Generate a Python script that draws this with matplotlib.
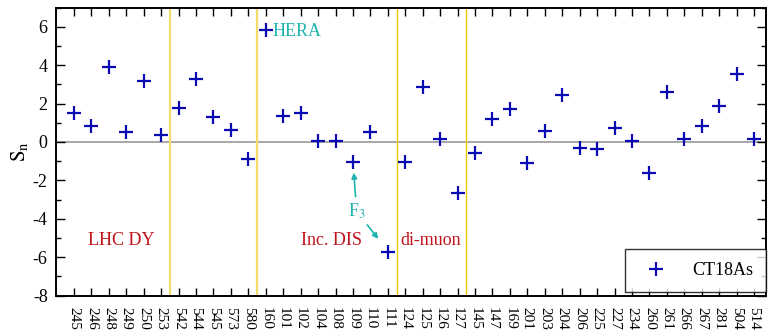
import matplotlib
matplotlib.use("Agg")
import matplotlib.pyplot as plt
from matplotlib.ticker import MultipleLocator
import numpy as np

plt.rcParams['font.family'] = ['Liberation Serif', 'DejaVu Serif']
plt.rcParams['mathtext.fontset'] = 'stix'
plt.rcParams['axes.unicode_minus'] = False

experiments = ['245', '246', '248', '249', '250', '253', '542', '544', '545', '573',
               '580', '160', '101', '102', '104', '108', '109', '110', '111', '124',
               '125', '126', '127', '145', '147', '169', '201', '203', '204', '206',
               '225', '227', '234', '260', '261', '266', '267', '281', '504', '514']
sn_values = [1.49, 0.83, 3.89, 0.52, 3.19, 0.35, 1.75, 3.30, 1.32, 0.62,
             -0.90, 5.82, 1.37, 1.49, 0.07, 0.07, -1.02, 0.50, -5.71, -1.02,
             2.88, 0.16, -2.67, -0.59, 1.20, 1.70, -1.08, 0.57, 2.43, -0.30,
             -0.35, 0.71, 0.07, -1.63, 2.59, 0.16, 0.83, 1.87, 3.54, 0.16]
group_boundaries = [5.5, 10.5, 18.5, 22.5]
group_labels = ['LHC DY', 'Inc. DIS', 'di-muon']

fig = plt.figure(figsize=(7.7, 3.34), dpi=100)
ax = fig.add_axes([56/770, 1 - 295.5/334, (765.7-56)/770, (295.5-7.6)/334])

x = np.arange(len(experiments))
ax.set_xlim(-1.03, 39.67)
ax.set_ylim(-8, 7)

ax.axhline(0, color='#a0a0a0', lw=1.3, zorder=1)
for i, b in enumerate(group_boundaries):
    if i < 2:
        ax.axvline(b, color='#f3dc6a', lw=1.6, zorder=1)
    else:
        ax.axvline(b, color='#f0c800', lw=1.0, zorder=1)

ax.plot(x, sn_values, linestyle='none', marker='+', markersize=10, mew=1.6,
        color='#0a0ab4', label='CT18As', zorder=3)

red = '#c0141c'
teal = '#1fb3ae'
ax.text(0.8, -5.15, group_labels[0], color=red, fontsize=13, va='center', ha='left')
ax.text(13.03, -5.15, group_labels[1], color=red, fontsize=13, va='center', ha='left')
ax.text(18.7, -5.15, group_labels[2], color=red, fontsize=13, va='center', ha='left')
ax.text(11.4, 5.75, 'HERA', color=teal, fontsize=13, va='center', ha='left')
ax.text(16.2, -3.6, r'F$_3$', color=teal, fontsize=13, va='center', ha='center')
ax.annotate('', xy=(16.05, -1.6), xytext=(16.15, -2.85),
            arrowprops=dict(arrowstyle='-|>', color=teal, lw=1.2,
                            mutation_scale=8, shrinkA=0, shrinkB=0))
ax.annotate('', xy=(17.45, -5.05), xytext=(16.82, -4.32),
            arrowprops=dict(arrowstyle='-|>', color=teal, lw=1.2,
                            mutation_scale=8, shrinkA=0, shrinkB=0))

ax.set_xticks(x)
ax.set_xticklabels(experiments, rotation=-90, fontsize=11)
ax.yaxis.set_major_locator(MultipleLocator(2))
ax.yaxis.set_minor_locator(MultipleLocator(1))
ax.tick_params(axis='x', which='major', direction='in', length=6, width=1,
               top=True, bottom=True, pad=8)
ax.tick_params(axis='y', which='major', direction='in', length=6.5, width=1,
               left=True, right=True, labelsize=13, pad=6)
ax.tick_params(axis='y', which='minor', direction='in', length=3.3, width=1,
               left=True, right=True)
for s in ax.spines.values():
    s.set_linewidth(1.4)

ax.set_ylabel(r'$\mathrm{S_n}$', fontsize=15, labelpad=2)

leg = ax.legend(loc='lower right', bbox_to_anchor=(1.0, 0.013), fontsize=13,
                frameon=True, fancybox=False, edgecolor='black',
                borderpad=0.7, handletextpad=1.0, borderaxespad=0.0)
leg.get_frame().set_linewidth(1.0)

fig.savefig('out.png', dpi=100)
